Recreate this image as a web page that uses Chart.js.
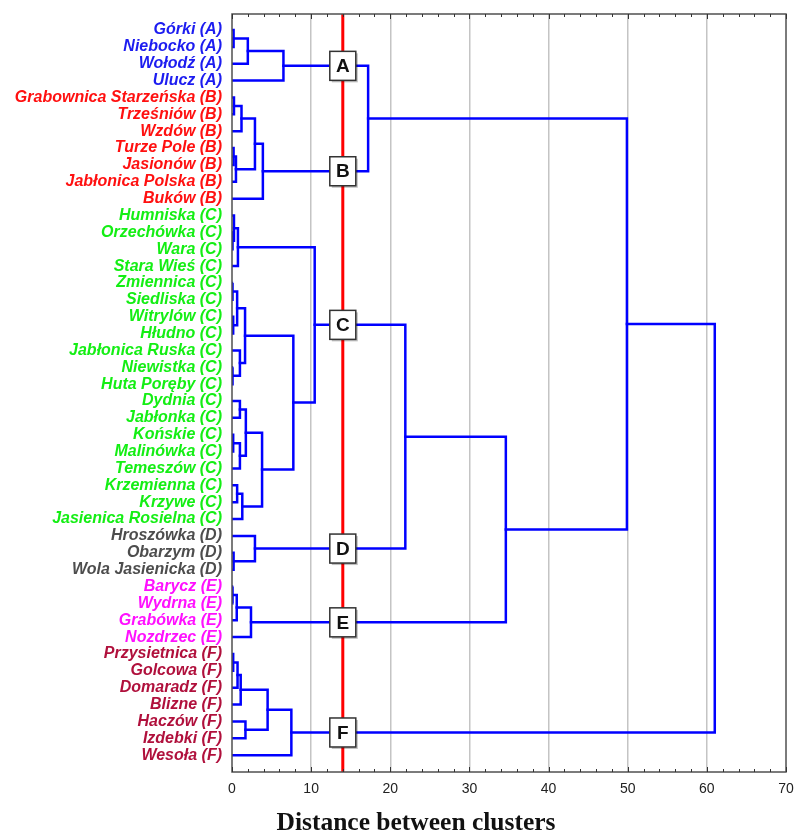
<!DOCTYPE html>
<html>
<head>
<meta charset="utf-8">
<script src="https://cdn.jsdelivr.net/npm/chart.js@4.4.1/dist/chart.umd.min.js"></script>
<style>
  html, body { margin: 0; padding: 0; background: #fff; }
  #wrap { width: 795px; height: 834px; }
</style>
</head>
<body>
<div id="wrap"><canvas id="tree" width="795" height="834"></canvas></div>
<script>
// leaves, top to bottom
var leafNames = [
  'Górki (A)', 'Niebocko (A)', 'Wołodź (A)', 'Ulucz (A)',
  'Grabownica Starzeńska (B)', 'Trześniów (B)', 'Wzdów (B)', 'Turze Pole (B)',
  'Jasionów (B)', 'Jabłonica Polska (B)', 'Buków (B)',
  'Humniska (C)', 'Orzechówka (C)', 'Wara (C)', 'Stara Wieś (C)', 'Zmiennica (C)',
  'Siedliska (C)', 'Witrylów (C)', 'Hłudno (C)', 'Jabłonica Ruska (C)', 'Niewistka (C)',
  'Huta Poręby (C)', 'Dydnia (C)', 'Jabłonka (C)', 'Końskie (C)', 'Malinówka (C)',
  'Temeszów (C)', 'Krzemienna (C)', 'Krzywe (C)', 'Jasienica Rosielna (C)',
  'Hroszówka (D)', 'Obarzym (D)', 'Wola Jasienicka (D)',
  'Barycz (E)', 'Wydrna (E)', 'Grabówka (E)', 'Nozdrzec (E)',
  'Przysietnica (F)', 'Golcowa (F)', 'Domaradz (F)', 'Blizne (F)', 'Haczów (F)',
  'Izdebki (F)', 'Wesoła (F)'
];

// linkage: node ids 0..43 are leaves, merge k creates node 44+k
var mergeLeft   = [0, 44, 45,  4, 47, 7, 49, 48, 51, 46,  12, 11, 55,  15, 17, 57, 20, 19, 59,  22, 24, 64, 63, 27, 67, 66, 62, 56,  31, 30, 71,  33, 75, 76, 74, 53,  37, 80, 81, 41, 82, 84, 79];
var mergeRight  = [1,  2,  3,  5,  6, 8,  9, 50, 10, 52,  13, 54, 14,  16, 18, 58, 21, 60, 61,  23, 25, 26, 65, 28, 29, 68, 69, 70,  32, 72, 73,  34, 35, 36, 77, 78,  38, 39, 40, 42, 83, 43, 85];
var mergeHeight = [0.2, 2.0, 6.5,  0.25, 1.2, 0.2, 0.5, 2.9, 3.9, 17.2,
  0.1, 0.25, 0.75,  0.1, 0.15, 0.65, 0.1, 1.0, 1.65,
  1.0, 0.15, 1.0, 1.75, 0.65, 1.3, 3.8, 7.75, 10.45,
  0.2, 2.9, 21.9,  0.1, 0.6, 2.4, 34.6, 49.9,
  0.15, 0.7, 1.1, 1.7, 4.5, 7.5, 61.0];

var cutHeight = 14;
var boxLabels = ['A', 'B', 'C', 'D', 'E', 'F'];
var xTicks = [0, 10, 20, 30, 40, 50, 60, 70];
var groupColors = { A: '#1c1cf0', B: '#ff1010', C: '#14ee14', D: '#4d4d4d', E: '#ff10ff', F: '#b0103c' };

var yMin = -0.95, yMax = 44;

// node positions
var n = leafNames.length;
var nodeY = [], nodeH = [];
for (var i = 0; i < n; i++) { nodeY[i] = i; nodeH[i] = 0; }
for (var k = 0; k < mergeHeight.length; k++) {
  nodeY[n + k] = (nodeY[mergeLeft[k]] + nodeY[mergeRight[k]]) / 2;
  nodeH[n + k] = mergeHeight[k];
}

var datasets = [];
datasets.push({
  data: [{ x: cutHeight, y: yMin }, { x: cutHeight, y: yMax }],
  borderColor: '#ff0000', borderWidth: 3, order: 0
});
for (var k = 0; k < mergeHeight.length; k++) {
  var l = mergeLeft[k], r = mergeRight[k], h = mergeHeight[k];
  datasets.push({
    data: [
      { x: nodeH[l], y: nodeY[l] }, { x: h, y: nodeY[l] },
      { x: h, y: nodeY[r] }, { x: nodeH[r], y: nodeY[r] }
    ],
    borderColor: '#0000ff', borderWidth: 2.5, order: 1
  });
}

// clusters cut by the red line
var boxY = [];
for (var k = 0; k < mergeHeight.length; k++) {
  if (mergeHeight[k] <= cutHeight) continue;
  [mergeLeft[k], mergeRight[k]].forEach(function (c) {
    if (nodeH[c] < cutHeight) boxY.push(nodeY[c]);
  });
}
boxY.sort(function (a, b) { return a - b; });

var treeExtras = {
  id: 'treeExtras',
  afterDraw: function (chart) {
    var ctx = chart.ctx, a = chart.chartArea;
    var xs = chart.scales.x, ys = chart.scales.y;
    ctx.save();
    // frame
    ctx.strokeStyle = '#505050';
    ctx.lineWidth = 1.5;
    ctx.strokeRect(a.left, a.top, a.right - a.left, a.bottom - a.top);
    // inward ticks, top and bottom
    ctx.lineWidth = 1;
    ctx.strokeStyle = '#333';
    for (var v = 0; v <= 70; v += 2) {
      var px = Math.round(xs.getPixelForValue(v)) + 0.5;
      var len = (v % 10 === 0) ? 5 : 3;
      ctx.beginPath();
      ctx.moveTo(px, a.bottom); ctx.lineTo(px, a.bottom - len);
      ctx.moveTo(px, a.top); ctx.lineTo(px, a.top + len);
      ctx.stroke();
    }
    // cluster boxes
    var cx = xs.getPixelForValue(cutHeight);
    boxY.forEach(function (yv, i) {
      var cy = ys.getPixelForValue(yv);
      var w = 26, hh = 29;
      ctx.fillStyle = 'rgba(0,0,0,0.25)';
      ctx.fillRect(cx - w / 2 + 2, cy - hh / 2 + 2, w, hh);
      ctx.fillStyle = '#fff';
      ctx.fillRect(cx - w / 2, cy - hh / 2, w, hh);
      ctx.strokeStyle = '#333';
      ctx.lineWidth = 1.5;
      ctx.strokeRect(cx - w / 2, cy - hh / 2, w, hh);
      ctx.fillStyle = '#111';
      ctx.font = 'bold 19px Arial, "Liberation Sans", sans-serif';
      ctx.textAlign = 'center';
      ctx.textBaseline = 'middle';
      ctx.fillText(boxLabels[i], cx, cy + 1);
    });
    // axis title
    ctx.fillStyle = '#111';
    ctx.font = 'bold 25.5px "Liberation Serif", "DejaVu Serif", serif';
    ctx.textAlign = 'center';
    ctx.textBaseline = 'alphabetic';
    ctx.fillText('Distance between clusters', 416, 830);
    ctx.restore();
  }
};

new Chart(document.getElementById('tree'), {
  type: 'scatter',
  data: { datasets: datasets },
  plugins: [treeExtras],
  options: {
    responsive: false,
    animation: false,
    layout: { padding: { top: 14, right: 9, left: 0, bottom: 0 } },
    elements: { point: { radius: 0, hoverRadius: 0 }, line: { tension: 0, borderCapStyle: 'square' } },
    datasets: { scatter: { showLine: true } },
    plugins: { legend: { display: false }, tooltip: { enabled: false } },
    scales: {
      x: {
        type: 'linear', min: 0, max: 70,
        afterFit: function (s) { s.height = 62; s.paddingLeft = 0; s.paddingRight = 0; },
        afterBuildTicks: function (s) { s.ticks = xTicks.map(function (v) { return { value: v }; }); },
        grid: {
          drawTicks: false, lineWidth: 1.5,
          color: function (c) { var v = c.tick.value; return (v > 0 && v < 70) ? '#c4c4c4' : 'rgba(0,0,0,0)'; }
        },
        border: { display: false },
        ticks: { padding: 9, color: '#222', font: { family: 'Arial, "Liberation Sans", sans-serif', size: 14 } }
      },
      y: {
        type: 'linear', reverse: true, min: yMin, max: yMax,
        afterFit: function (s) { s.width = 232; s.paddingTop = 0; s.paddingBottom = 0; },
        afterBuildTicks: function (s) { s.ticks = leafNames.map(function (nm, i) { return { value: i }; }); },
        grid: { display: false, drawTicks: false },
        border: { display: false },
        ticks: {
          padding: 10, autoSkip: false,
          callback: function (v) { return leafNames[v]; },
          color: function (c) { var nm = leafNames[c.tick.value] || ''; return groupColors[nm.slice(-2, -1)]; },
          font: { family: 'Arial, "Liberation Sans", sans-serif', size: 16, style: 'italic', weight: 'bold' }
        }
      }
    }
  }
});
</script>
</body>
</html>
